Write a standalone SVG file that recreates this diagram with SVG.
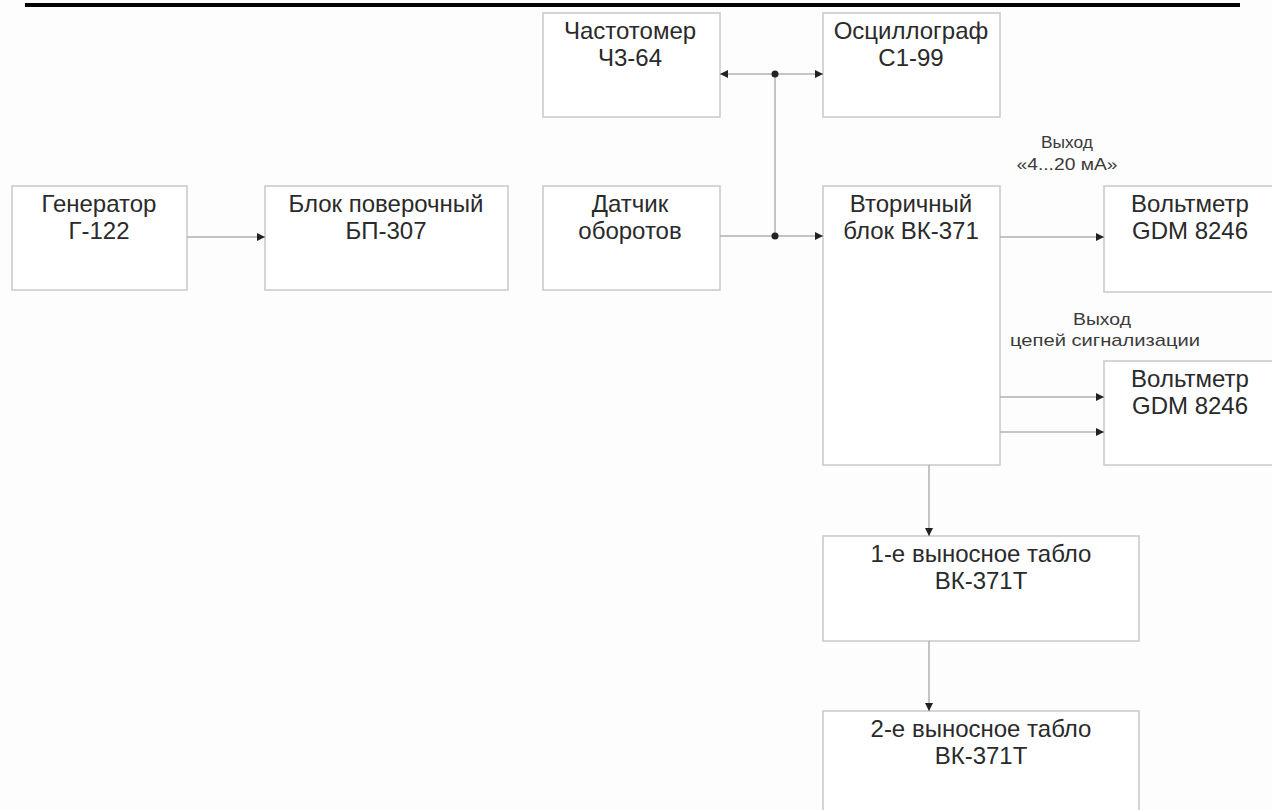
<svg xmlns="http://www.w3.org/2000/svg" width="1272" height="810" viewBox="0 0 1272 810">
<style>
.box{fill:#ffffff;stroke:#c8c8c8;stroke-width:1.5}
.t{font-family:"Liberation Sans",Arial,sans-serif;font-size:24px;fill:#2a2a2a;text-anchor:middle}
.s{font-family:"Liberation Sans",Arial,sans-serif;font-size:17px;fill:#3a3a3a;text-anchor:middle}
.ln{stroke:#b0b0b0;stroke-width:1.5;fill:none}
</style>
<defs>
<marker id="arr" viewBox="0 0 10 10" refX="10" refY="5" markerWidth="8" markerHeight="8" markerUnits="userSpaceOnUse" orient="auto">
<path d="M0,0 L10,5 L0,10 Z" fill="#222"/>
</marker>
</defs>
<rect width="1272" height="810" fill="#fdfdfd"/>
<line x1="25" y1="5" x2="1240" y2="5" stroke="#000" stroke-width="4"/>

<g id="generator"><rect class="box" x="12" y="186" width="175" height="104"/><text class="t" x="99" y="212">Генератор</text><text class="t" x="99" y="239">Г-122</text></g>
<g id="blok-poverochny"><rect class="box" x="265" y="186" width="243" height="104"/><text class="t" x="386" y="212">Блок поверочный</text><text class="t" x="386" y="239">БП-307</text></g>
<g id="chastotomer"><rect class="box" x="543" y="13" width="177" height="104"/><text class="t" x="630" y="39">Частотомер</text><text class="t" x="630" y="66">Ч3-64</text></g>
<g id="oscillograph"><rect class="box" x="823" y="13" width="177" height="104"/><text class="t" x="911" y="39">Осциллограф</text><text class="t" x="911" y="66">С1-99</text></g>
<g id="datchik"><rect class="box" x="543" y="186" width="177" height="104"/><text class="t" x="630" y="212">Датчик</text><text class="t" x="630" y="239">оборотов</text></g>
<g id="vtorichny"><rect class="box" x="823" y="186" width="177" height="279"/><text class="t" x="911" y="212">Вторичный</text><text class="t" x="911" y="239">блок ВК-371</text></g>
<g id="voltmeter1"><rect class="box" x="1104" y="186" width="175" height="106"/><text class="t" x="1190" y="212">Вольтметр</text><text class="t" x="1190" y="239">GDM 8246</text></g>
<g id="voltmeter2"><rect class="box" x="1104" y="361" width="175" height="104"/><text class="t" x="1190" y="387">Вольтметр</text><text class="t" x="1190" y="414">GDM 8246</text></g>
<g id="tablo1"><rect class="box" x="823" y="536" width="316" height="105"/><text class="t" x="981" y="562">1-е выносное табло</text><text class="t" x="981" y="589">ВК-371Т</text></g>
<g id="tablo2"><rect class="box" x="823" y="711" width="316" height="110"/><text class="t" x="981" y="737">2-е выносное табло</text><text class="t" x="981" y="764">ВК-371Т</text></g>

<g id="labels">
<text class="s" x="1067" y="148" textLength="52" lengthAdjust="spacingAndGlyphs">Выход</text>
<text class="s" x="1067" y="170" textLength="101" lengthAdjust="spacingAndGlyphs">«4...20 мА»</text>
<text class="s" x="1102" y="325" textLength="58" lengthAdjust="spacingAndGlyphs">Выход</text>
<text class="s" x="1105" y="346" textLength="190" lengthAdjust="spacingAndGlyphs">цепей сигнализации</text>
</g>

<g id="connectors">
<line class="ln" x1="187" y1="237" x2="265" y2="237" marker-end="url(#arr)"/>
<line class="ln" x1="720" y1="236" x2="823" y2="236" marker-end="url(#arr)"/>
<line class="ln" x1="775" y1="236" x2="775" y2="74"/>
<line class="ln" x1="775" y1="74" x2="720" y2="74" marker-end="url(#arr)"/>
<line class="ln" x1="775" y1="74" x2="823" y2="74" marker-end="url(#arr)"/>
<circle cx="775" cy="74" r="3.5" fill="#222"/>
<circle cx="775" cy="236" r="3.5" fill="#222"/>
<line class="ln" x1="1000" y1="237" x2="1104" y2="237" marker-end="url(#arr)"/>
<line class="ln" x1="1000" y1="397" x2="1104" y2="397" marker-end="url(#arr)"/>
<line class="ln" x1="1000" y1="432" x2="1104" y2="432" marker-end="url(#arr)"/>
<line class="ln" x1="929" y1="465" x2="929" y2="536" marker-end="url(#arr)"/>
<line class="ln" x1="929" y1="641" x2="929" y2="711" marker-end="url(#arr)"/>
</g>
</svg>
